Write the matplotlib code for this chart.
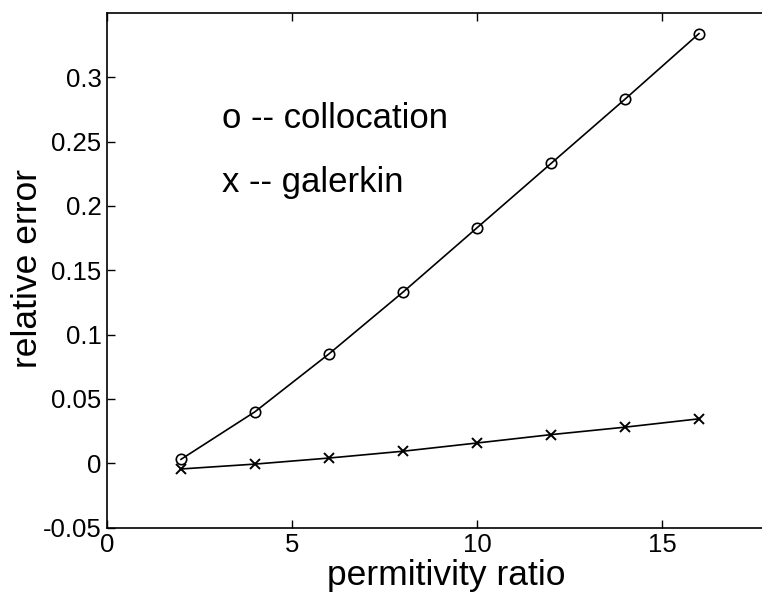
import matplotlib.pyplot as plt

ratio = [2, 4, 6, 8, 10, 12, 14, 16]
collocation = [0.003, 0.040, 0.085, 0.133, 0.183, 0.233, 0.283, 0.334]
galerkin = [-0.0045, -0.0007, 0.004, 0.0093, 0.0157, 0.0222, 0.028, 0.0345]
xticks = [0, 5, 10, 15]
yticks = [-0.05, 0, 0.05, 0.1, 0.15, 0.2, 0.25, 0.3]
ytick_labels = ["-0.05", "0", "0.05", "0.1", "0.15", "0.2", "0.25", "0.3"]

plt.rcParams['font.family'] = ['Liberation Sans', 'DejaVu Sans']

fig = plt.figure(figsize=(7.62, 5.95), dpi=100)
# right edge of the axes runs past the image, as in the cropped original
ax = fig.add_axes([107 / 762, 1 - 527.5 / 595, 666 / 762, 514.5 / 595])

ax.plot(ratio, collocation, color='black', lw=1.2, marker='o', ms=7.5,
        mfc='none', mec='black', mew=1.2)
ax.plot(ratio, galerkin, color='black', lw=1.2, marker='x', ms=7.5, mew=1.4)

ax.text(3.1, 0.2604, "o -- collocation", fontsize=25, va='baseline', ha='left')
ax.text(3.1, 0.211, "x -- galerkin", fontsize=25, va='baseline', ha='left')

ax.set_xlim(0, 18)
ax.set_ylim(-0.05, 0.35)
ax.set_xticks(xticks)
ax.set_yticks(yticks)
ax.set_yticklabels(ytick_labels)
ax.tick_params(direction='in', length=6, width=1, labelsize=18.5, top=True, right=True, pad=4)
for s in ax.spines.values():
    s.set_linewidth(1.2)

ax.set_xlabel("permitivity ratio", fontsize=25.5)
ax.set_ylabel("relative error", fontsize=25.5)
ax.xaxis.set_label_coords(0.509, -0.062)
ax.yaxis.set_label_coords(-0.094, 0.503)

fig.savefig("out.png", dpi=100)
